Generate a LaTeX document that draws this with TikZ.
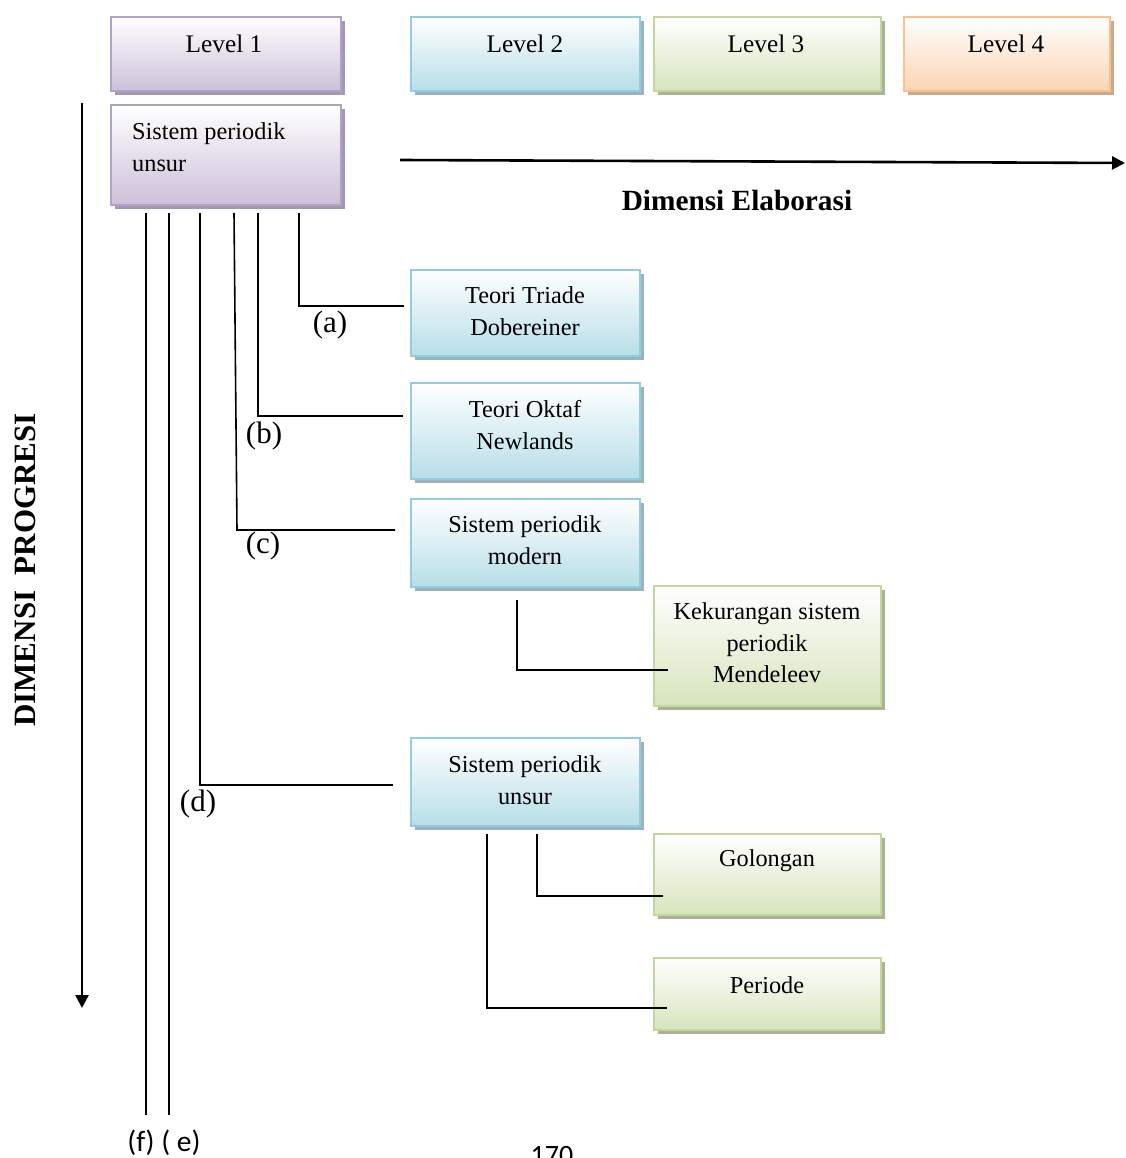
\documentclass[tikz,border=0pt]{standalone}
\usepackage{fontspec}
\setmainfont{Liberation Serif}
\newfontfamily\calib{Carlito}
\usetikzlibrary{shadows,arrows.meta}

\definecolor{puBot}{HTML}{CCC0DA}\definecolor{puLine}{HTML}{B3A2C7}\definecolor{puShd}{HTML}{A397B2}
\definecolor{blBot}{HTML}{B7DEE8}\definecolor{blLine}{HTML}{93CDDD}\definecolor{blShd}{HTML}{98B4BC}
\definecolor{grBot}{HTML}{D7E4BD}\definecolor{grLine}{HTML}{C3D69B}\definecolor{grShd}{HTML}{A8B494}
\definecolor{orBot}{HTML}{FBD4B4}\definecolor{orLine}{HTML}{FAC090}\definecolor{orShd}{HTML}{C8A98E}

\tikzset{
  card/.style={rectangle, inner sep=0pt, outer sep=0pt, line width=2.2pt},
  cardP/.style={card, draw=puLine, top color=white, bottom color=puBot,
    drop shadow={shadow xshift=4pt, shadow yshift=-4pt, fill=puShd, opacity=1}},
  cardB/.style={card, draw=blLine, top color=white, bottom color=blBot,
    drop shadow={shadow xshift=4pt, shadow yshift=-4pt, fill=blShd, opacity=1}},
  cardG/.style={card, draw=grLine, top color=white, bottom color=grBot,
    drop shadow={shadow xshift=4pt, shadow yshift=-4pt, fill=grShd, opacity=1}},
  cardO/.style={card, draw=orLine, top color=white, bottom color=orBot,
    drop shadow={shadow xshift=4pt, shadow yshift=-4pt, fill=orShd, opacity=1}},
  txt/.style={inner sep=0pt, align=center, font=\fontsize{24.3}{31.5}\selectfont},
  lvl/.style={txt, font=\fontsize{25.3}{30}\selectfont},
  tag/.style={inner sep=0pt, font=\fontsize{31}{33}\selectfont},
  link/.style={line width=1.6pt, black},
  axis/.style={line width=2.6pt, black, -{Triangle[length=13pt,width=13pt]}},
  heading/.style={inner sep=0pt, font=\bfseries\fontsize{29.3}{32}\selectfont}
}

\begin{document}
\begin{tikzpicture}[x=1pt,y=-1pt]
\useasboundingbox (0,0) rectangle (1125,1158);

% level headers
\node[cardP, minimum width=230, minimum height=74] (lv1) at (226,54) {};
\node[cardB, minimum width=229, minimum height=74] (lv2) at (525.5,54) {};
\node[cardG, minimum width=227, minimum height=74] (lv3) at (767.5,54) {};
\node[cardO, minimum width=206, minimum height=74] (lv4) at (1007,54) {};
\node[lvl] (lv1t) at (224,44) {Level 1};
\node[lvl] (lv2t) at (525,44) {Level 2};
\node[lvl] (lv3t) at (766,44) {Level 3};
\node[lvl] (lv4t) at (1006,44) {Level 4};

% level 1 topic
\node[cardP, minimum width=230, minimum height=100] (root) at (226,155) {};
\node[txt, align=left, anchor=west] (roott) at (132,147) {Sistem periodik\\unsur};

% level 2 topics
\node[cardB, minimum width=229, minimum height=86] (tri) at (525.5,313) {};
\node[txt] (trit) at (525,311) {Teori Triade\\Dobereiner};
\node[cardB, minimum width=229, minimum height=96] (okt) at (525.5,431) {};
\node[txt] (oktt) at (525,425) {Teori Oktaf\\Newlands};
\node[cardB, minimum width=229, minimum height=88] (mod) at (525.5,543) {};
\node[txt] (modt) at (525,540) {Sistem periodik\\modern};
\node[cardB, minimum width=229, minimum height=88] (uns) at (525.5,782) {};
\node[txt] (unst) at (525,780) {Sistem periodik\\unsur};

% level 3 topics
\node[cardG, minimum width=227, minimum height=120] (kek) at (767.5,646) {};
\node[txt] (kekt) at (767,643) {Kekurangan sistem\\periodik\\Mendeleev};
\node[cardG, minimum width=227, minimum height=81] (gol) at (767.5,874.5) {};
\node[txt] (golt) at (767,861) {Golongan};
\node[cardG, minimum width=227, minimum height=72] (per) at (767.5,994) {};
\node[txt] (pert) at (767,985) {Periode};

% axes
\coordinate (elS) at (400,160);
\coordinate (elE) at (1125,163);
\draw[axis] (elS) -- (elE);
\node[heading] (elab) at (737,200) {Dimensi Elaborasi};
\coordinate (prS) at (82,103);
\coordinate (prE) at (82,1008);
\draw[axis] (prS) -- (prE);
\node[heading, font=\bfseries\fontsize{31}{33}\selectfont, rotate=90] (prog) at (25,570) {DIMENSI\ \ PROGRESI};

% branches from the level 1 topic
\coordinate (sa) at (299,213); \coordinate (ea) at (404,306);
\coordinate (sb) at (258,213); \coordinate (eb) at (403,416);
\coordinate (sc) at (234,213); \coordinate (ec) at (395,530);
\coordinate (sd) at (200,213); \coordinate (ed) at (393,785);
\coordinate (se) at (169,213); \coordinate (ee) at (169,1115);
\coordinate (sf) at (146,213); \coordinate (ef) at (146,1115);
\draw[link] (sa) |- (ea);
\draw[link] (sb) |- (eb);
\draw[link] (sc) -- (237,530) -- (ec);
\draw[link] (sd) |- (ed);
\draw[link] (se) -- (ee);
\draw[link] (sf) -- (ef);
\node[tag] (la) at (330,325) {(a)};
\node[tag] (lb) at (264,436) {(b)};
\node[tag] (lc) at (263,546) {(c)};
\node[tag] (ld) at (198,804) {(d)};
\node[inner sep=0pt, font=\calib\fontsize{29.5}{32}\selectfont] (lfe) at (164,1143) {(f) ( e)};

% branches into level 3
\coordinate (sm) at (517,600); \coordinate (em) at (668,670);
\draw[link] (sm) |- (em);
\coordinate (sg) at (537,834); \coordinate (eg) at (663,896);
\draw[link] (sg) |- (eg);
\coordinate (sp) at (487,834); \coordinate (ep) at (667,1008);
\draw[link] (sp) |- (ep);

% page number
\node[inner sep=0pt, anchor=north, font=\calib\fontsize{28}{30}\selectfont] (pg) at (552,1146) {170};
\end{tikzpicture}
\end{document}
